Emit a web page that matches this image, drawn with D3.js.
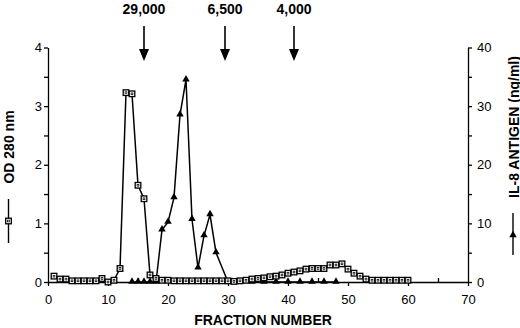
<!DOCTYPE html>
<html>
<head>
<meta charset="utf-8">
<script src="https://cdn.jsdelivr.net/npm/d3@7"></script>
<style>
  body { margin: 0; background: #fff; }
  svg { display: block; font-family: "Liberation Sans", Arial, sans-serif; }
  .axis path, .axis line { stroke: #000; stroke-width: 1.3px; }
  .axis text { font-size: 13px; fill: #000; }
</style>
</head>
<body>
<script>
// fraction numbers and OD 280 nm readings (left axis)
var odFractions = [1,2,3,4,5,6,7,8,9,10,11,12,13,14,15,16,17,18,19,20,
                   21,22,23,24,25,26,27,28,29,30,31,32,33,34,35,36,37,38,39,40,
                   41,42,43,44,45,46,47,48,49,50,51,52,53,54,55,56,57,58,59,60];
var odValues = [0.10,0.05,0.05,0.02,0.02,0.02,0.02,0.02,0.06,0.00,0.03,0.23,3.23,3.21,1.65,1.42,0.12,0.06,0.03,0.03,
                0.02,0.02,0.02,0.02,0.02,0.02,0.02,0.02,0.02,0.02,0.01,0.02,0.03,0.05,0.06,0.07,0.09,0.10,0.12,0.15,
                0.17,0.19,0.22,0.23,0.23,0.23,0.29,0.29,0.31,0.22,0.15,0.10,0.05,0.03,0.03,0.03,0.03,0.03,0.03,0.03];

// IL-8 antigen (ng/ml), right axis
var il8Fractions = [14,15,16,17,18,19,20,21,22,23,24,25,26,27,28,30,32,34,36,38,40,42,44,46,48];
var il8Values = [0,0,0,0,0,8.9,10.2,14.4,28.5,34.5,10.7,2.4,7.9,11.5,5.0,0,0,0,0,0,0,0,0,0,0];

// molecular weight markers
var markerLabels = ["29,000", "6,500", "4,000"];
var markerFractions = [16, 29.5, 41];

var xTicks = [0,10,20,30,40,50,60,70];
var xMinor = [5,15,25,35,45,55,65];
var odTicks = [0,1,2,3,4];
var odMinor = [0.5,1.5,2.5,3.5];
var il8Ticks = [0,10,20,30,40];
var il8Minor = [5,15,25,35];

var width = 520, height = 328;

var svg = d3.select("body").append("svg")
  .attr("width", width)
  .attr("height", height);

var x = d3.scaleLinear().domain([0, 70]).range([48, 468]);
var yL = d3.scaleLinear().domain([0, 4]).range([282, 47.5]);
var yR = d3.scaleLinear().domain([0, 40]).range([282, 47.5]);

// x axis
svg.append("g").attr("class", "axis")
  .attr("transform", "translate(0,282)")
  .call(d3.axisBottom(x).tickValues(xTicks).tickSize(4).tickSizeOuter(0).tickPadding(9));
var xm = svg.append("g").attr("class", "axis")
  .attr("transform", "translate(0,282)")
  .call(d3.axisTop(x).tickValues(xMinor).tickSize(4).tickFormat(""));
xm.select(".domain").remove();

// left axis
svg.append("g").attr("class", "axis")
  .attr("transform", "translate(48,0)")
  .call(d3.axisLeft(yL).tickValues(odTicks).tickFormat(d3.format("d")).tickSize(4).tickSizeOuter(0).tickPadding(2));
var lm = svg.append("g").attr("class", "axis")
  .attr("transform", "translate(48,0)")
  .call(d3.axisLeft(yL).tickValues(odMinor).tickSize(4).tickFormat(""));
lm.select(".domain").remove();

// right axis
svg.append("g").attr("class", "axis")
  .attr("transform", "translate(468,0)")
  .call(d3.axisRight(yR).tickValues(il8Ticks).tickSize(4).tickSizeOuter(0).tickPadding(5));
var rm = svg.append("g").attr("class", "axis")
  .attr("transform", "translate(468,0)")
  .call(d3.axisRight(yR).tickValues(il8Minor).tickSize(4).tickFormat(""));
rm.select(".domain").remove();

// IL-8 line + triangles
var il8Data = il8Fractions.map(function(f, i) { return [f, il8Values[i]]; });
svg.append("path")
  .datum(il8Data)
  .attr("fill", "none")
  .attr("stroke", "#000")
  .attr("stroke-width", 1.5)
  .attr("d", d3.line().x(function(d) { return x(d[0]); }).y(function(d) { return yR(d[1]); }));

// OD line + squares
var odData = odFractions.map(function(f, i) { return [f, odValues[i]]; });
svg.append("path")
  .datum(odData)
  .attr("fill", "none")
  .attr("stroke", "#000")
  .attr("stroke-width", 1.5)
  .attr("d", d3.line().x(function(d) { return x(d[0]); }).y(function(d) { return yL(d[1]); }));

var tri = d3.symbol().type(d3.symbolTriangle).size(24);
svg.selectAll(".tri")
  .data(il8Data)
  .enter().append("path")
  .attr("class", "tri")
  .attr("d", tri)
  .attr("transform", function(d) { return "translate(" + x(d[0]) + "," + (yR(d[1]) - 0.5) + ")"; })
  .attr("fill", "#000");

function drawSquare(g) {
  g.append("rect").attr("x", -2.8).attr("y", -2.8).attr("width", 5.6).attr("height", 5.6)
    .attr("fill", "#fff").attr("stroke", "#000").attr("stroke-width", 1.3);
  g.append("rect").attr("x", -0.9).attr("y", -0.9).attr("width", 1.8).attr("height", 1.8)
    .attr("fill", "#fff").attr("stroke", "#000").attr("stroke-width", 0.7);
}

svg.selectAll(".sq")
  .data(odData)
  .enter().append("g")
  .attr("class", "sq")
  .attr("transform", function(d) { return "translate(" + x(d[0]) + "," + yL(d[1]) + ")"; })
  .each(function() { drawSquare(d3.select(this)); });

// molecular weight arrows
markerFractions.forEach(function(f, i) {
  var ax = x(f);
  svg.append("text")
    .attr("x", ax).attr("y", 13.5)
    .attr("text-anchor", "middle")
    .attr("font-size", "14px").attr("font-weight", "bold")
    .text(markerLabels[i]);
  svg.append("line")
    .attr("x1", ax).attr("x2", ax).attr("y1", 26).attr("y2", 52)
    .attr("stroke", "#000").attr("stroke-width", 1.6);
  svg.append("path")
    .attr("d", "M" + (ax - 5) + ",49 L" + (ax + 5) + ",49 L" + ax + ",61 Z")
    .attr("fill", "#000");
});

// axis titles
svg.append("text")
  .attr("x", 263).attr("y", 324.5)
  .attr("text-anchor", "middle")
  .attr("font-size", "14px").attr("font-weight", "bold")
  .text("FRACTION NUMBER");

svg.append("text")
  .attr("transform", "translate(13.5,147) rotate(-90)")
  .attr("text-anchor", "middle")
  .attr("font-size", "14px").attr("font-weight", "bold")
  .text("OD 280 nm");

svg.append("text")
  .attr("transform", "translate(518.5,127) rotate(-90)")
  .attr("text-anchor", "middle")
  .attr("font-size", "14px").attr("font-weight", "bold")
  .text("IL-8 ANTIGEN (ng/ml)");

// legend keys beside the axis titles
svg.append("line").attr("x1", 8.5).attr("x2", 8.5).attr("y1", 199).attr("y2", 243)
  .attr("stroke", "#000").attr("stroke-width", 1.4);
svg.append("g").attr("transform", "translate(8.5,221)").call(drawSquare);

svg.append("line").attr("x1", 513).attr("x2", 513).attr("y1", 213).attr("y2", 255)
  .attr("stroke", "#000").attr("stroke-width", 1.4);
svg.append("path").attr("d", tri).attr("transform", "translate(513,235)").attr("fill", "#000");
</script>
</body>
</html>
